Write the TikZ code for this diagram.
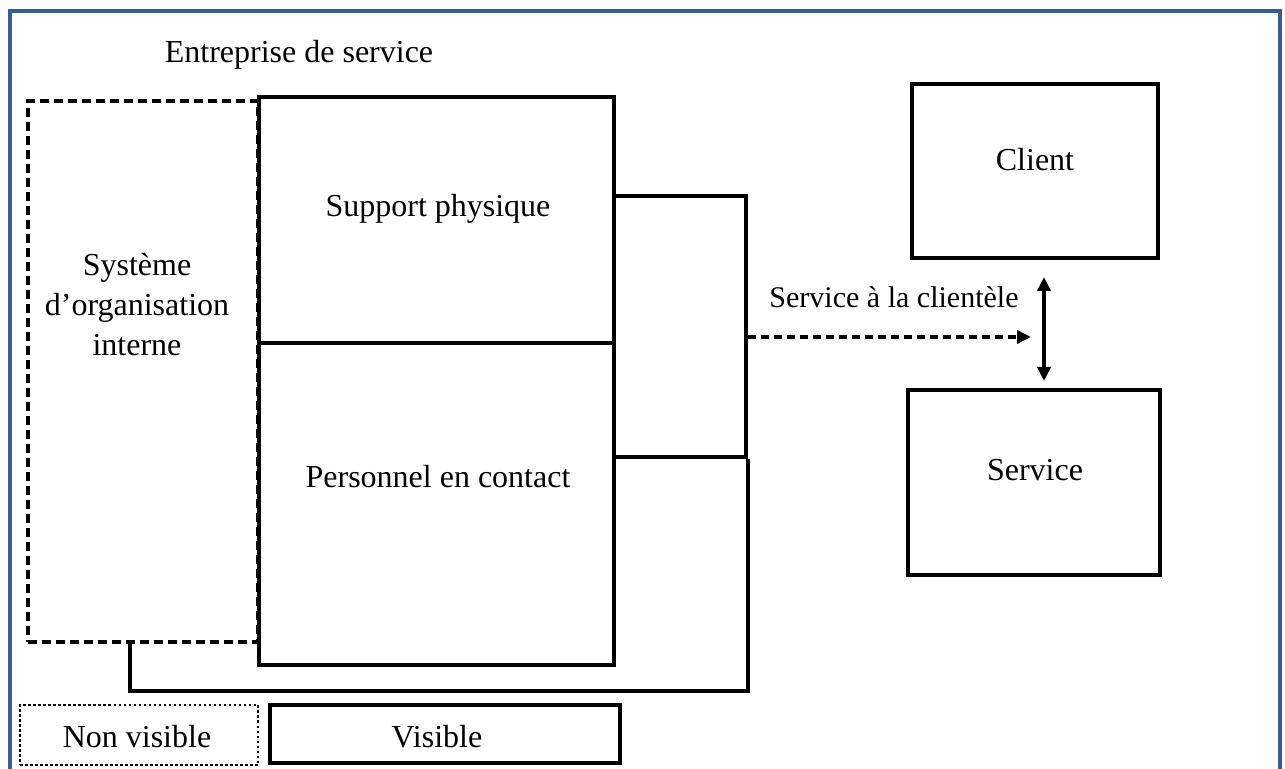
\documentclass[tikz,border=0pt]{standalone}
\usepackage{fontspec}
\setmainfont{Liberation Serif}
\usetikzlibrary{arrows.meta,calc}
\definecolor{frameblue}{RGB}{54,95,145}
\begin{document}
\begin{tikzpicture}[x=0.5pt,y=-0.5pt,
  box/.style={draw=black,line width=1.75pt,inner sep=0pt},
  dashbox/.style={draw=black,line width=1.75pt,inner sep=0pt,dash pattern=on 4.5pt off 2.5pt},
  dotbox/.style={draw=black,line width=1.25pt,inner sep=0pt,dash pattern=on 1.25pt off 1.25pt},
  conn/.style={draw=black,line width=1.75pt},
  lbl/.style={font=\fontsize{16}{20}\selectfont,align=center,inner sep=0pt},
  slbl/.style={font=\fontsize{15}{18}\selectfont,align=center,inner sep=0pt},
  tip/.style={-{Triangle[length=7pt,width=6.5pt]}}
  ]
\useasboundingbox (0,0) rectangle (1285,769);
\draw[frameblue,line width=1.6pt] (10,772) -- (10,11) -- (1280,11) -- (1280,772);
% title
\node[lbl] (title) at (299,55) {Entreprise de service};
% boxes
\node[dashbox,minimum width=115pt,minimum height=270.5pt] (sys) at (143,371.5) {};
\node[box,minimum width=66pt,minimum height=130.5pt] (mid) at (680,326.5) {};
\node[box,minimum width=177.5pt,minimum height=123pt] (sup) at (436.5,220) {};
\node[box,minimum width=177.5pt,minimum height=161pt] (pers) at (436.5,504) {};
\node[lbl] (systxt) at (137,305) {Système\\d’organisation\\interne};
\node[lbl] (suptxt) at (438,209) {Support physique};
\node[lbl] (perstxt) at (438,477) {Personnel en contact};
% connector below
\coordinate (turn) at (130,691);
\draw[conn] (sys.south -| turn) -- (turn) -- (turn -| mid.east) -- (mid.south east);
% client / service
\node[box,minimum width=123pt,minimum height=87pt] (client) at (1035,171) {};
\node[lbl] (clienttxt) at (1035,160) {Client};
\node[box,minimum width=126pt,minimum height=92.5pt] (serv) at (1034,482.5) {};
\node[lbl] (servtxt) at (1035,470) {Service};
% dashed arrow
\coordinate (atip) at (1031,337);
\draw[conn,tip,dash pattern=on 4pt off 2.5pt] (mid.east |- atip) -- (atip);
\node[slbl] (sacl) at (894,297) {Service à la clientèle};
% double arrow
\coordinate (da1) at (1044,277);
\coordinate (da2) at (1044,381);
\draw[conn,{Triangle[length=7pt,width=6.5pt]}-{Triangle[length=7pt,width=6.5pt]}] (da1) -- (da2);
% legend
\node[dotbox,minimum width=119pt,minimum height=30pt] (nv) at (139,735) {};
\node[lbl] (nvtxt) at (137,737) {Non visible};
\node[box,minimum width=175pt,minimum height=29pt] (vis) at (445,734) {};
\node[lbl] (vistxt) at (437,737) {Visible};
\end{tikzpicture}
\end{document}
